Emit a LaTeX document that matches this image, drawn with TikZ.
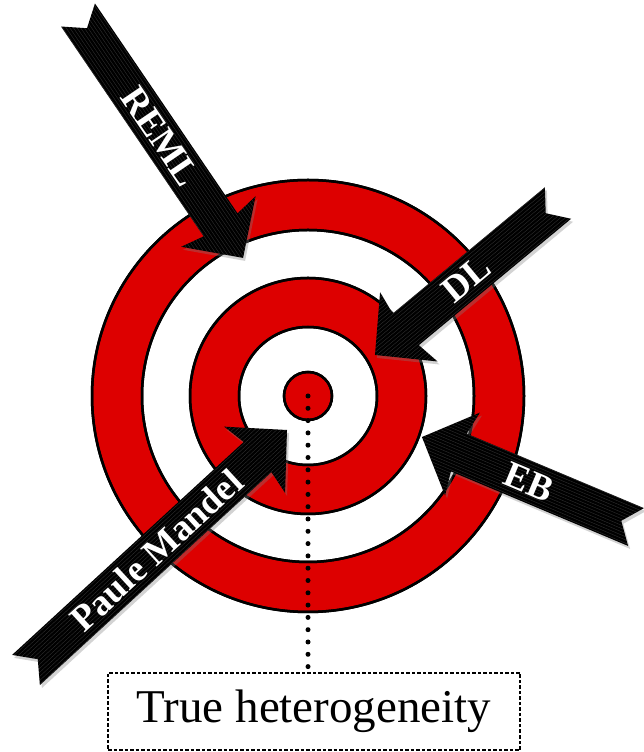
\documentclass[tikz,border=0pt]{standalone}
\usepackage{fontspec}
\setmainfont{Liberation Serif}
\usetikzlibrary{shadows,positioning}
\definecolor{TargetRed}{HTML}{DD0000}
\definecolor{RibbonGrey}{HTML}{9A9A9A}
\tikzset{
    % Target ring styles
    ringred/.style={
        fill=TargetRed,
        draw=black,
        line width=2.5pt
    },
    ringwhite/.style={
        ringred,
        fill=white
    },
    % Ribbon arrow body
    ribbonbody/.style={
        fill=black,
        drop shadow={shadow xshift=2pt, shadow yshift=-3pt, opacity=0.35}
    },
    % Fine stripes on the ribbon
    ribbonstripe/.style={
        draw=RibbonGrey,
        opacity=0.3,
        line width=0.4pt
    },
    % Ribbon label
    ribbonlabel/.style={
        text=white,
        font=\fontsize{37}{37}\selectfont\bfseries,
        transform shape,
        inner sep=0pt
    },
    % Dotted leader line
    leader/.style={
        line width=5pt,
        line cap=round,
        dash pattern=on 0pt off 12.3pt
    },
    % Caption box
    truthbox/.style={
        draw=black,
        line width=1.2pt,
        dash pattern=on 3.5pt off 2pt,
        minimum width=412pt,
        minimum height=77pt,
        inner sep=0pt,
        font=\fontsize{47}{47}\selectfont
    }
}
% ribbon arrow: name, tail, angle, length, extra text rotation, label
\newcommand{\ribbonarrow}[6]{%
    \begin{scope}[shift={#2}, rotate=#3]
        \path[ribbonbody] (0,20.5) -- ({#4-40},20.5) -- ({#4-44},45) -- (#4,0)
            -- ({#4-44},-45) -- ({#4-40},-20.5) -- (0,-20.5) -- (16,0) -- cycle;
        \begin{scope}
            \clip (0,20.5) -- ({#4-40},20.5) -- ({#4-44},45) -- (#4,0)
                -- ({#4-44},-45) -- ({#4-40},-20.5) -- (0,-20.5) -- (16,0) -- cycle;
            \foreach \k in {-44,-41,...,44}
                \draw[ribbonstripe] (0,\k) -- (#4,\k);
        \end{scope}
        \node[ribbonlabel, rotate=#5] (#1) at ({#4/2},0) {#6};
    \end{scope}}

\begin{document}
\begin{tikzpicture}[x=1pt, y=1pt]
    \useasboundingbox (0,0) rectangle (644,752);

    % Target
    \coordinate (bull) at (308,356);
    \fill[ringred] (bull) circle (216);
    \fill[ringwhite] (bull) circle (166);
    \fill[ringred] (bull) circle (118);
    \fill[ringwhite] (bull) circle (69);
    \fill[ringred] (bull) circle (24);
    \draw[ringred, fill=none] (bull) circle (216) (bull) circle (166) (bull) circle (118)
        (bull) circle (69) (bull) circle (24);

    % Caption
    \node[truthbox] (truth) at (314,40.5) {True heterogeneity};
    \draw[leader] (bull) -- (bull |- truth.north);

    % Arrows
    \ribbonarrow{reml}{(78,737)}{-55.8}{293.7}{0}{REML}
    \ribbonarrow{dl}{(558,549)}{219.7}{237.9}{180}{DL}
    \ribbonarrow{eb}{(636,225)}{157.2}{232.2}{180}{EB}
    \ribbonarrow{pm}{(26,82)}{42.6}{354.6}{0}{Paule Mandel}
\end{tikzpicture}
\end{document}
